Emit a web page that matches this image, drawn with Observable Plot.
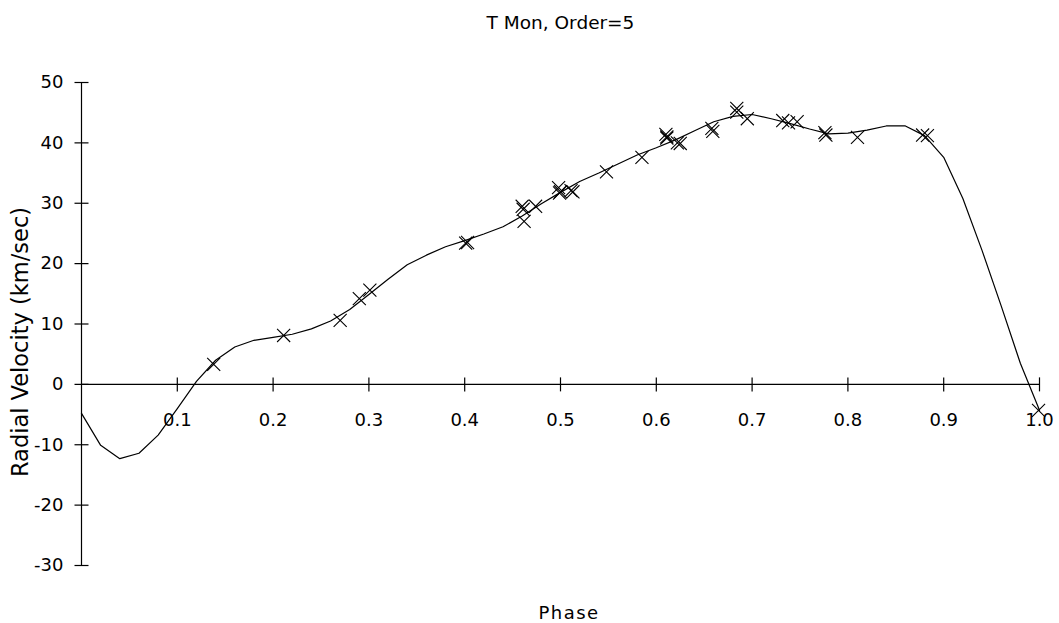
<!DOCTYPE html>
<html>
<head>
<meta charset="utf-8">
<script src="https://cdn.jsdelivr.net/npm/d3@7"></script>
<script src="https://cdn.jsdelivr.net/npm/@observablehq/plot@0.6"></script>
<style>
  html, body { margin: 0; padding: 0; background: #fff; }
  body { width: 1059px; height: 623px; overflow: hidden; font-family: "DejaVu Sans", sans-serif; color: #000; }
  #title { height: 44px; line-height: 46px; padding-left: 62px; text-align: center; font-size: 18.5px; }
  #xlabel { height: 23px; line-height: 25px; padding-left: 79px; text-align: center; font-size: 18px; letter-spacing: 1.5px; }
  svg { display: block; }
</style>
</head>
<body>
<div id="title"></div>
<div id="chart"></div>
<div id="xlabel"></div>
<script>
const chartTitle = "T Mon, Order=5";
const xAxisLabel = "Phase";
const yAxisLabel = "Radial Velocity (km/sec)";

// fitted curve (order 5), sampled every 0.02 in phase
const curvePhase = [0.00,0.02,0.04,0.06,0.08,0.10,0.12,0.14,0.16,0.18,0.20,0.22,0.24,0.26,0.28,0.30,0.32,0.34,0.36,0.38,0.40,0.42,0.44,0.46,0.48,0.50,0.52,0.54,0.56,0.58,0.60,0.62,0.64,0.66,0.68,0.70,0.72,0.74,0.76,0.78,0.80,0.82,0.84,0.86,0.88,0.90,0.92,0.94,0.96,0.98,1.00];
const curveVel = [-4.8,-10.1,-12.3,-11.4,-8.4,-4.0,0.5,4.0,6.2,7.3,7.8,8.3,9.2,10.5,12.4,14.9,17.4,19.8,21.4,22.8,23.8,24.9,26.1,27.9,29.9,31.8,33.6,35.0,36.5,38.0,39.2,40.5,42.0,43.5,44.4,44.7,44.0,43.2,42.3,41.5,41.6,42.1,42.8,42.8,41.2,37.6,30.8,22.2,13.0,3.5,-4.3];

// observations
const obsPhase = [0.138,0.211,0.270,0.290,0.301,0.401,0.403,0.460,0.461,0.462,0.474,0.498,0.499,0.500,0.511,0.513,0.548,0.585,0.610,0.611,0.611,0.622,0.625,0.658,0.659,0.684,0.684,0.695,0.732,0.738,0.747,0.776,0.777,0.810,0.878,0.883,0.999];
const obsVel = [3.3,8.1,10.6,14.2,15.6,23.4,23.5,29.5,29.0,27.0,29.5,32.6,31.7,31.9,32.1,31.9,35.2,37.6,41.4,41.0,40.8,40.0,39.9,42.4,41.9,45.7,45.1,44.0,43.7,43.3,43.5,41.7,41.3,40.9,41.3,41.2,-4.3];

const xTicks = [0.1,0.2,0.3,0.4,0.5,0.6,0.7,0.8,0.9,1.0];
const xTickLabels = ["0.1","0.2","0.3","0.4","0.5","0.6","0.7","0.8","0.9","1.0"];
const yTicks = [50,40,30,20,10,0,-10,-20,-30];
const yTickLabels = ["50","40","30","20","10","0","-10","-20","-30"];

const curve = curvePhase.map((p, i) => ({phase: p, v: curveVel[i]}));
const obs = obsPhase.map((p, i) => ({phase: p, v: obsVel[i]}));
const xt = xTicks.map((t, i) => ({t, label: xTickLabels[i]}));
const yt = yTicks.map((t, i) => ({t, label: yTickLabels[i]}));

document.getElementById("title").textContent = chartTitle;
document.getElementById("xlabel").textContent = xAxisLabel;

// tick glyphs that cross the axis line
const hTick = {draw(ctx) { ctx.moveTo(-7, 0); ctx.lineTo(7, 0); }};
const vTick = {draw(ctx) { ctx.moveTo(0, -7); ctx.lineTo(0, 7); }};

const font = "DejaVu Sans";
const chart = Plot.plot({
  width: 1059,
  height: 556,
  marginTop: 38,
  marginBottom: 35,
  marginLeft: 81,
  marginRight: 20,
  style: {fontFamily: font, fontSize: "18px", background: "#fff", color: "#000"},
  x: {domain: [0, 1], axis: null},
  y: {domain: [-30, 50], axis: null},
  marks: [
    Plot.ruleX([0], {stroke: "#000", strokeWidth: 1.2}),
    Plot.ruleY([0], {stroke: "#000", strokeWidth: 1.2}),
    Plot.dot(yt, {x: 0, y: "t", symbol: hTick, r: 7, fill: "none", stroke: "#000", strokeWidth: 1.2}),
    Plot.dot(xt, {x: "t", y: 0, symbol: vTick, r: 7, fill: "none", stroke: "#000", strokeWidth: 1.2}),
    Plot.text(yt, {x: 0, y: "t", text: "label", textAnchor: "end", dx: -18, fontSize: 18, fill: "#000"}),
    Plot.text(xt, {x: "t", y: 0, text: "label", dy: 36, fontSize: 18, fill: "#000"}),
    Plot.text([yAxisLabel], {frameAnchor: "left", textAnchor: "middle", text: d => d, rotate: -90, dx: -61, dy: 18, fontSize: 22.5, fill: "#000"}),
    Plot.line(curve, {x: "phase", y: "v", stroke: "#000", strokeWidth: 1.2}),
    Plot.dot(obs, {x: "phase", y: "v", symbol: "times", r: 6, stroke: "#000", strokeWidth: 1.1})
  ]
});
document.getElementById("chart").appendChild(chart);
</script>
</body>
</html>
